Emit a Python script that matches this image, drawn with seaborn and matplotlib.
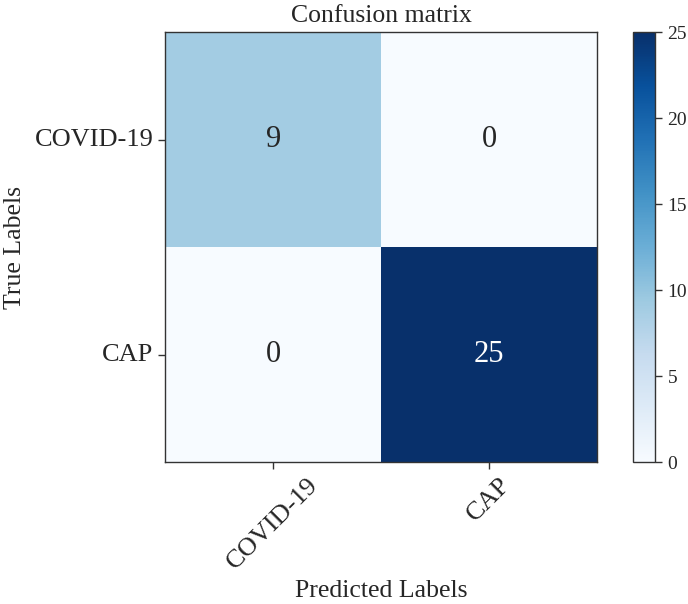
import numpy as np
import pandas as pd
import seaborn as sns
import matplotlib
matplotlib.use("Agg")
import matplotlib.pyplot as plt

classes = ["COVID-19", "CAP"]
row_covid = [9, 0]
row_cap = [0, 25]
cbar_ticks = [0, 5, 10, 15, 20, 25]

cm = pd.DataFrame([row_covid, row_cap], index=classes, columns=classes)

sns.set_style("white")
plt.rcParams['font.family'] = ['Liberation Serif', 'DejaVu Serif']
plt.rcParams['mathtext.fontset'] = 'stix'
plt.rcParams['ytick.right'] = True
plt.rcParams['ytick.major.size'] = 5
plt.rcParams['xtick.major.size'] = 5

fig = plt.figure(figsize=(6.88, 6.04), dpi=100)
ax = fig.add_axes([0.240, 0.235, 0.628, 0.712])
cax = fig.add_axes([0.920, 0.235, 0.032, 0.712])

sns.heatmap(cm, ax=ax, cbar_ax=cax, cmap="Blues", vmin=0, vmax=25,
            annot=True, fmt="d", annot_kws={"fontsize": 22},
            cbar_kws={"ticks": cbar_ticks})

for s in ax.spines.values():
    s.set_visible(True)
    s.set_color("#333333")
    s.set_linewidth(1.0)
ax.tick_params(axis="both", which="both", length=5, width=1, color="#333333",
               left=True, bottom=True, right=False, top=False, labelsize=19)
ax.set_xticklabels(classes, rotation=45, ha="center", fontsize=19)
ax.set_yticklabels(classes, rotation=0, va="center", fontsize=19)
ax.set_title("Confusion matrix", fontsize=18.5, pad=7)
ax.set_xlabel("Predicted Labels", fontsize=18.5, labelpad=5)
ax.set_ylabel("True Labels", fontsize=18.5, labelpad=6)

cbar = ax.collections[0].colorbar
cbar.outline.set_visible(True)
cbar.outline.set_edgecolor("#333333")
cbar.outline.set_linewidth(1.0)
cbar.ax.yaxis.set_ticks_position("right")
cbar.ax.yaxis.set_tick_params(which="major", right=True, left=False, length=5,
                              width=1, color="#333333", labelsize=14, pad=4)

fig.savefig("out.png", dpi=100)
